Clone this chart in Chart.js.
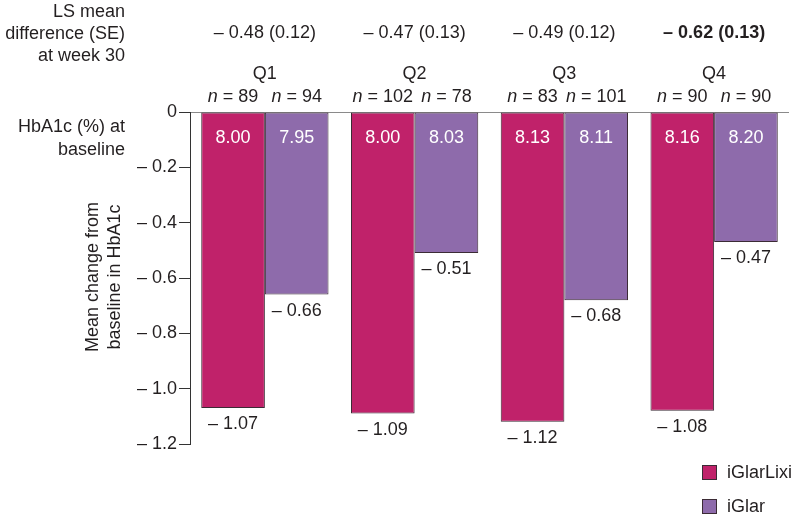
<!DOCTYPE html>
<html>
<head>
<meta charset="utf-8">
<script src="https://cdn.jsdelivr.net/npm/chart.js@4"></script>
<style>
  html, body { margin: 0; padding: 0; background: #fff; }
  #wrap { width: 797px; height: 515px; position: relative; }
</style>
</head>
<body>
<div id="wrap"><canvas id="hba1cChart"></canvas></div>
<script>
const quartiles = ['Q1', 'Q2', 'Q3', 'Q4'];
const iGlarLixiChange = [-1.07, -1.09, -1.12, -1.08];
const iGlarChange = [-0.66, -0.51, -0.68, -0.47];
const iGlarLixiN = [89, 102, 83, 90];
const iGlarN = [94, 78, 101, 90];
const iGlarLixiBaseline = ['8.00', '8.00', '8.13', '8.16'];
const iGlarBaseline = ['7.95', '8.03', '8.11', '8.20'];
const lsMeanDiff = ['– 0.48 (0.12)', '– 0.47 (0.13)', '– 0.49 (0.12)', '– 0.62 (0.13)'];
const lsMeanBold = [false, false, false, true];
const yTicks = [0, -0.2, -0.4, -0.6, -0.8, -1.0, -1.2];

const FONT = '"Liberation Sans", Arial, Helvetica, sans-serif';
const TXT = '#231f20';

function fmt(v, d) {
    if (Math.abs(v) < 1e-9) return '0';
    return (v < 0 ? '– ' : '') + Math.abs(v).toFixed(d);
}

const annotations = {
    id: 'annotations',
    afterDatasetsDraw(chart) {
        const ctx = chart.ctx;
        const x = chart.scales.x;
        const lixi = chart.getDatasetMeta(0).data;
        const glar = chart.getDatasetMeta(1).data;
        ctx.save();
        ctx.fillStyle = TXT;
        ctx.textBaseline = 'middle';

        // left side labels
        ctx.font = '18px ' + FONT;
        ctx.textAlign = 'right';
        ctx.fillText('LS mean', 125, 12);
        ctx.fillText('difference (SE)', 125, 34);
        ctx.fillText('at week 30', 125, 56);
        ctx.fillText('HbA1c (%) at', 125, 127);
        ctx.fillText('baseline', 125, 150);

        ctx.textAlign = 'center';
        quartiles.forEach((q, i) => {
            const cx = x.getPixelForValue(i);
            ctx.fillStyle = TXT;
            ctx.font = (lsMeanBold[i] ? 'bold ' : '') + '18px ' + FONT;
            ctx.fillText(lsMeanDiff[i], cx, 33);
            ctx.font = '18px ' + FONT;
            ctx.fillText(q, cx, 74);

            [[lixi[i], iGlarLixiN[i], iGlarLixiBaseline[i], iGlarLixiChange[i]],
             [glar[i], iGlarN[i], iGlarBaseline[i], iGlarChange[i]]].forEach(([bar, n, base, val]) => {
                // n = xx with italic n
                ctx.fillStyle = TXT;
                ctx.font = 'italic 18px ' + FONT;
                const w1 = ctx.measureText('n').width;
                ctx.font = '18px ' + FONT;
                const rest = ' = ' + n;
                const w2 = ctx.measureText(rest).width;
                const sx = bar.x - (w1 + w2) / 2;
                ctx.textAlign = 'left';
                ctx.font = 'italic 18px ' + FONT;
                ctx.fillText('n', sx, 97);
                ctx.font = '18px ' + FONT;
                ctx.fillText(rest, sx + w1, 97);
                ctx.textAlign = 'center';

                // baseline HbA1c inside bar
                ctx.fillStyle = '#fff';
                ctx.fillText(base, bar.x, 138);

                // change value below bar
                ctx.fillStyle = TXT;
                ctx.fillText(fmt(val, 2), bar.x, bar.y + 16);
            });
        });

        // y axis title
        ctx.save();
        ctx.translate(104, 277);
        ctx.rotate(-Math.PI / 2);
        ctx.fillStyle = TXT;
        ctx.font = '18px ' + FONT;
        ctx.textAlign = 'center';
        ctx.fillText('Mean change from', 0, -11);
        ctx.fillText('baseline in HbA1c', 0, 11);
        ctx.restore();

        // legend
        chart.data.datasets.forEach((ds, i) => {
            const ly = 465 + i * 34;
            ctx.fillStyle = ds.backgroundColor;
            ctx.fillRect(702.5, ly + 0.5, 14, 14);
            ctx.strokeStyle = '#3b2b35';
            ctx.lineWidth = 1;
            ctx.strokeRect(702.5, ly + 0.5, 14, 14);
            ctx.fillStyle = TXT;
            ctx.font = '18px ' + FONT;
            ctx.textAlign = 'left';
            ctx.fillText(ds.label, 727, ly + 8);
        });
        ctx.restore();
    }
};

const ctx = document.getElementById('hba1cChart').getContext('2d');

new Chart(ctx, {
    type: 'bar',
    data: {
        labels: quartiles,
        datasets: [{
            label: 'iGlarLixi',
            data: iGlarLixiChange,
            backgroundColor: '#c0226a',
            borderColor: '#3b2b35',
            borderWidth: 1,
            borderSkipped: false
        }, {
            label: 'iGlar',
            data: iGlarChange,
            backgroundColor: '#8e6bab',
            borderColor: '#3b2b35',
            borderWidth: 1,
            borderSkipped: false
        }]
    },
    options: {
        responsive: true,
        maintainAspectRatio: false,
        animation: false,
        datasets: {
            bar: { categoryPercentage: 0.85, barPercentage: 1.0 }
        },
        layout: { padding: { top: 112, bottom: 71, left: 0, right: 8 } },
        plugins: {
            legend: { display: false },
            tooltip: { enabled: false }
        },
        scales: {
            x: { display: false },
            y: {
                min: -1.2,
                max: 0,
                afterFit(scale) { scale.width = 190; },
                afterBuildTicks(scale) { scale.ticks = yTicks.map(v => ({ value: v })); },
                ticks: {
                    padding: 2,
                    color: TXT,
                    font: { family: FONT, size: 18 },
                    callback: v => fmt(v, 1)
                },
                border: { display: true, color: '#333', width: 1 },
                grid: {
                    drawOnChartArea: true,
                    tickLength: 11,
                    tickColor: '#333',
                    color: c => (c.tick && c.tick.value === 0 ? '#8a8a8a' : 'rgba(0,0,0,0)')
                }
            }
        }
    },
    plugins: [annotations]
});
</script>
</body>
</html>
